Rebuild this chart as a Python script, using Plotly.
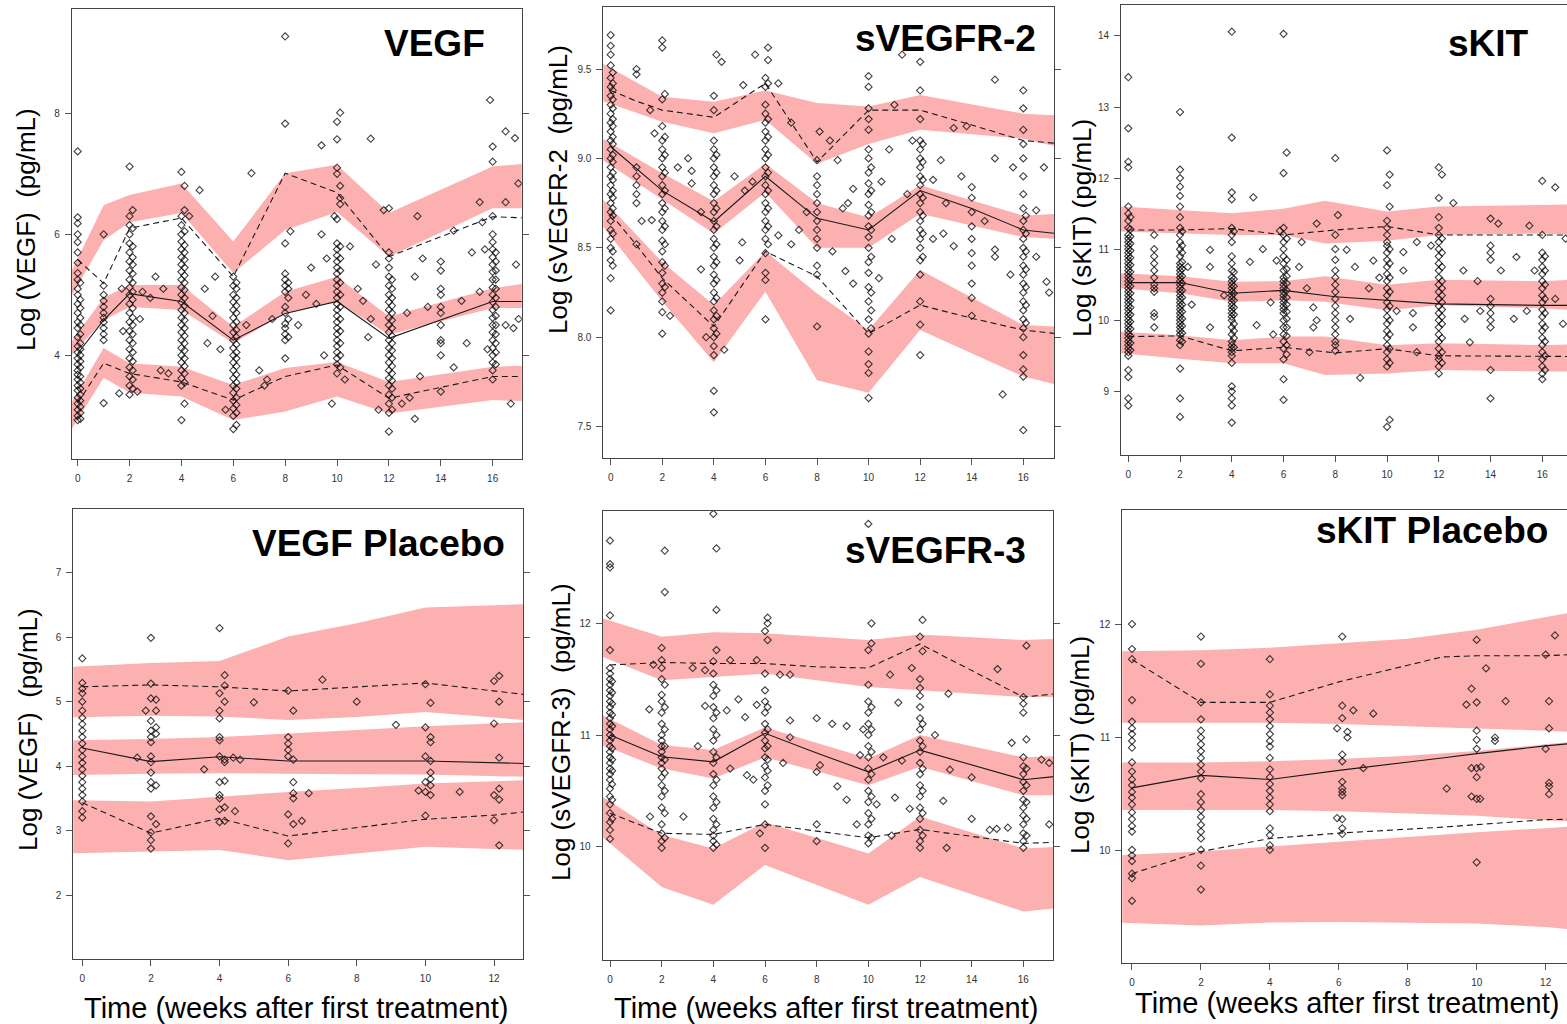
import plotly.graph_objects as go

W, H = 1567, 1024
BAND = "rgb(253,176,176)"
LINE = "#1a1a1a"
PT = "rgba(10,10,10,0.78)"
FONT = "Arial, Liberation Sans, sans-serif"

# ======================= VEGF (treated) =======================
vegf_band_time = [-0.25, 1, 2, 4, 6, 8, 10, 12, 16, 17.3]
vegf_hi_top = [5.38, 6.48, 6.65, 6.84, 5.88, 7.01, 7.15, 6.35, 7.12, 7.17]
vegf_hi_bot = [4.97, 5.90, 6.20, 6.35, 5.36, 6.07, 6.37, 5.63, 6.43, 6.43]
vegf_md_top = [4.22, 4.95, 5.16, 5.16, 4.47, 5.05, 5.30, 4.64, 5.11, 5.19]
vegf_md_bot = [4.00, 4.58, 4.80, 4.75, 4.20, 4.69, 4.89, 4.34, 4.78, 4.78]
vegf_lo_top = [3.21, 4.12, 3.87, 3.81, 3.51, 3.79, 3.89, 3.56, 3.81, 3.83]
vegf_lo_bot = [2.77, 3.63, 3.38, 3.32, 2.93, 3.07, 3.32, 3.04, 3.26, 3.24]
vegf_line_time = [0, 1, 2, 4, 6, 8, 10, 12, 16, 17.3]
vegf_p95 = [5.58, 5.19, 6.10, 6.27, 5.30, 7.01, 6.69, 5.63, 6.29, 6.27]
vegf_p50 = [4.03, 4.58, 5.02, 4.89, 4.25, 4.69, 4.89, 4.28, 4.89, 4.89]
vegf_p05 = [3.21, 3.87, 3.70, 3.56, 3.26, 3.65, 3.84, 3.29, 3.65, 3.65]
vegf_obs = [
    (0.0, [2.93, 3.0, 3.1, 3.2, 3.3, 3.42, 3.5, 3.6, 3.68, 3.75, 3.85, 3.95, 4.05, 4.15, 4.3, 4.45, 4.55, 4.7,
           4.85, 5.0, 5.1, 5.25, 5.36, 5.53, 5.7, 5.87, 6.0, 6.18, 6.28, 7.37]),
    (0.1, [2.95, 3.05, 3.15, 3.25, 3.35, 3.45, 3.55, 3.65, 3.8, 3.9, 4.0, 4.1, 4.2, 4.35, 4.5, 4.62, 4.78, 4.92, 5.2]),
    (1.0, [3.21, 4.25, 4.35, 4.45, 4.55, 4.62, 4.7, 4.8, 4.9, 5.0, 5.15, 6.0]),
    (2.0, [3.35, 3.5, 3.65, 3.8, 3.95, 4.1, 4.25, 4.4, 4.55, 4.7, 4.85, 5.0, 5.12, 5.25, 5.4, 5.55, 5.7, 5.85,
           6.0, 6.15, 6.3, 7.12]),
    (2.12, [3.45, 3.6, 3.75, 3.9, 4.05, 4.2, 4.35, 4.5, 4.62, 4.78, 4.92, 5.05, 5.2, 5.35, 5.5, 5.62, 5.8, 6.1, 6.4]),
    (4.0, [2.93, 3.5, 3.62, 3.75, 3.88, 4.0, 4.12, 4.25, 4.38, 4.5, 4.62, 4.75, 4.88, 5.0, 5.12, 5.25, 5.38, 5.5,
           5.62, 5.75, 5.88, 6.0, 6.15, 6.3, 7.03]),
    (4.12, [3.2, 3.55, 3.7, 3.82, 3.95, 4.08, 4.2, 4.32, 4.45, 4.58, 4.7, 4.82, 4.95, 5.08, 5.2, 5.32, 5.45, 5.58,
            5.7, 5.82, 6.05, 6.4, 6.8]),
    (6.0, [2.78, 3.0, 3.12, 3.25, 3.38, 3.5, 3.62, 3.75, 3.88, 4.0, 4.12, 4.25, 4.38, 4.5, 4.62, 4.75, 4.88, 5.0,
           5.15, 5.3]),
    (6.12, [2.85, 3.05, 3.18, 3.3, 3.45, 3.55, 3.68, 3.82, 3.95, 4.05, 4.18, 4.3, 4.42, 4.55, 4.7, 4.82, 4.95, 5.1, 5.2]),
    (8.0, [3.95, 4.25, 4.35, 4.45, 4.52, 4.7, 4.8, 5.05, 5.15, 5.25, 5.35, 5.85, 7.83, 9.27]),
    (8.12, [4.3, 4.6, 4.95, 5.1, 5.2]),
    (10.0, [3.7, 3.85, 3.95, 4.05, 4.15, 4.25, 4.35, 4.45, 4.55, 4.65, 4.75, 4.85, 4.95, 5.05, 5.15, 5.25, 5.35,
            5.45, 5.55, 5.65, 5.75, 5.85, 6.25, 7.0, 7.1, 7.57, 7.86]),
    (10.12, [3.8, 4.0, 4.2, 4.4, 4.6, 4.8, 5.0, 5.2, 5.4, 5.6, 5.8, 6.5, 6.6, 6.8, 8.01]),
    (12.0, [2.74, 3.05, 3.2, 3.35, 3.5, 3.62, 3.75, 3.88, 4.0, 4.12, 4.25, 4.38, 4.5, 4.62, 4.75, 4.88, 5.0, 5.15,
            5.3, 5.45, 5.6, 5.7, 6.43]),
    (12.12, [3.1, 3.3, 3.45, 3.58, 3.7, 3.82, 3.95, 4.08, 4.2, 4.32, 4.45, 4.58, 4.7, 4.82, 4.95, 5.1, 5.25]),
    (14.0, [3.4, 4.0, 4.2, 4.25, 4.5, 4.7, 4.8, 5.0, 5.1, 5.4, 5.55]),
    (16.0, [3.6, 3.75, 3.88, 4.0, 4.12, 4.25, 4.38, 4.5, 4.62, 4.75, 4.88, 5.0, 5.12, 5.25, 5.38, 5.5, 5.62, 5.75,
            5.87, 6.0, 6.3, 7.2, 7.45]),
    (16.12, [3.85, 4.05, 4.2, 4.35, 4.5, 4.65, 4.8, 4.95, 5.1, 5.25, 5.4, 5.55, 5.7]),
]
vegf_extra = [(1.7, 5.1), (1.75, 4.4), (1.6, 3.37), (2.3, 3.4), (2.4, 4.6), (2.5, 5.05), (3.0, 5.3), (3.2, 3.75),
              (3.5, 3.7), (2.8, 4.95), (3.3, 5.1), (4.3, 6.3), (4.7, 6.73), (5.0, 4.2), (5.2, 4.65), (5.3, 5.3),
              (5.5, 4.1), (5.7, 3.1), (4.9, 5.1), (6.7, 7.01), (7.0, 3.75), (7.2, 3.5), (6.5, 4.5), (7.5, 4.6),
              (7.3, 3.6), (8.5, 4.5), (8.8, 5.0), (9.2, 4.85), (9.5, 4.0), (9.8, 3.2), (9.0, 5.45), (9.6, 5.6),
              (10.5, 5.8), (10.8, 5.1), (11.0, 4.9), (11.2, 4.3), (11.5, 5.5), (11.3, 4.6), (10.3, 3.6), (11.6, 3.1),
              (12.5, 3.2), (12.8, 3.3), (13.0, 2.95), (13.2, 3.65), (12.7, 4.7), (13.0, 5.3), (13.3, 5.6), (13.5, 4.8),
              (14.5, 3.8), (14.8, 4.9), (15.0, 4.2), (15.2, 5.7), (15.5, 5.05), (15.8, 4.1), (15.7, 5.75), (16.5, 4.5),
              (16.8, 4.45), (17.0, 4.6), (16.7, 3.2), (16.9, 5.5), (11.8, 6.4), (13.1, 6.3), (9.4, 6.0), (9.9, 6.3),
              (8.2, 6.05), (16.5, 7.7), (15.9, 8.22), (16.86, 7.59), (16.99, 6.84), (15.5, 6.53), (14.5, 6.06),
              (15.6, 6.2), (16.5, 6.53), (11.3, 7.58), (9.4, 7.47)]

# ======================= sVEGFR-2 =======================
r2_band_time = [-0.3, 2, 4, 6, 8, 10, 12, 16, 17.3]
r2_hi_top = [9.53, 9.345, 9.317, 9.38, 9.31, 9.29, 9.355, 9.25, 9.24]
r2_hi_bot = [9.32, 9.205, 9.14, 9.215, 8.97, 9.08, 9.16, 9.11, 9.065]
r2_md_top = [9.11, 8.917, 8.76, 8.97, 8.75, 8.67, 8.85, 8.68, 8.69]
r2_md_bot = [8.99, 8.77, 8.58, 8.81, 8.50, 8.50, 8.69, 8.56, 8.55]
r2_lo_top = [8.77, 8.42, 8.18, 8.48, 8.245, 8.04, 8.376, 8.068, 8.06]
r2_lo_bot = [8.62, 8.20, 7.86, 8.255, 7.76, 7.69, 8.04, 7.78, 7.735]
r2_line_time = [0, 1, 2, 4, 6, 8, 10, 12, 14, 16, 17.3]
r2_p95 = [9.38, 9.32, 9.27, 9.23, 9.42, 8.98, 9.27, 9.27, 9.187, 9.10, 9.084]
r2_p50 = [9.065, 8.94, 8.82, 8.646, 8.90, 8.665, 8.60, 8.82, 8.72, 8.60, 8.58]
r2_p05 = [8.69, 8.515, 8.33, 8.06, 8.48, 8.34, 8.02, 8.18, 8.106, 8.04, 8.02]
r2_obs = [
    (0.0, [8.15, 8.33, 8.43, 8.5, 8.55, 8.6, 8.65, 8.7, 8.75, 8.8, 8.85, 8.9, 8.95, 9.0, 9.05, 9.1, 9.15, 9.2, 9.25,
           9.3, 9.35, 9.4, 9.45, 9.52, 9.58, 9.63, 9.69]),
    (0.08, [8.4, 8.48, 8.58, 8.68, 8.72, 8.78, 8.82, 8.88, 8.92, 8.98, 9.02, 9.08, 9.12, 9.18, 9.22, 9.28, 9.33, 9.38,
            9.42, 9.48]),
    (1.0, [8.52, 8.75, 8.8, 8.85, 8.9, 8.95, 9.47, 9.5]),
    (2.0, [8.02, 8.14, 8.2, 8.25, 8.3, 8.36, 8.42, 8.48, 8.54, 8.6, 8.65, 8.7, 8.75, 8.8, 8.85, 8.9, 8.95, 9.0, 9.05,
           9.1, 9.18, 9.33, 9.62, 9.66]),
    (2.1, [8.28, 8.4, 8.52, 8.62, 8.72, 8.82, 8.92, 9.02, 9.12, 9.36]),
    (4.0, [7.58, 7.7, 7.9, 7.95, 8.0, 8.05, 8.1, 8.15, 8.2, 8.25, 8.3, 8.35, 8.4, 8.45, 8.5, 8.55, 8.6, 8.65, 8.7,
           8.75, 8.8, 8.85, 8.9, 8.95, 9.0, 9.05, 9.1, 9.27, 9.35]),
    (4.1, [8.02, 8.12, 8.22, 8.32, 8.42, 8.52, 8.62, 8.72, 8.82, 8.92, 9.02, 9.58]),
    (6.0, [8.1, 8.32, 8.36, 8.47, 8.55, 8.6, 8.65, 8.7, 8.75, 8.8, 8.85, 8.9, 8.95, 9.0, 9.05, 9.1, 9.15, 9.2, 9.25,
           9.3, 9.4, 9.45]),
    (6.1, [8.52, 8.62, 8.72, 8.82, 8.92, 9.02, 9.12, 9.22, 9.42, 9.55, 9.62]),
    (8.0, [8.06, 8.35, 8.4, 8.5, 8.55, 8.6, 8.65, 8.7, 8.75, 8.8, 8.85, 8.9, 8.99]),
    (10.0, [7.66, 7.8, 7.85, 7.92, 8.02, 8.1, 8.2, 8.28, 8.36, 8.42, 8.5, 8.56, 8.62, 8.68, 8.74, 8.8, 8.86, 8.92,
            9.0, 9.05, 9.16, 9.22, 9.28, 9.4, 9.46]),
    (10.1, [8.05, 8.15, 8.25, 8.45, 8.6, 8.7, 8.82, 8.95]),
    (12.0, [7.9, 8.07, 8.2, 8.35, 8.43, 8.5, 8.55, 8.6, 8.65, 8.7, 8.75, 8.8, 8.85, 8.9, 8.95, 9.0, 9.05, 9.1, 9.22,
            9.38, 9.54]),
    (12.1, [8.45, 8.58, 8.68, 8.78, 8.88, 8.98, 9.08]),
    (14.0, [8.12, 8.22, 8.3, 8.4, 8.47, 8.55, 8.62, 8.7, 8.78, 8.84]),
    (16.0, [7.48, 7.78, 7.82, 7.9, 8.0, 8.05, 8.1, 8.15, 8.2, 8.25, 8.3, 8.35, 8.4, 8.45, 8.5, 8.55, 8.6, 8.65,
            8.72, 8.8, 8.9, 9.0, 9.08, 9.16, 9.28, 9.38]),
    (16.1, [8.08, 8.18, 8.28, 8.38, 8.48, 8.58, 8.68]),
]
r2_extra = [(1.59, 8.655), (1.53, 9.27), (1.7, 9.14), (3.14, 8.93), (3.14, 8.86), (3.5, 8.7), (4.3, 9.54),
            (5.14, 9.41), (5.6, 9.58), (4.8, 8.9), (5.5, 8.87), (5.2, 8.82), (6.5, 9.42), (7.0, 9.2), (7.3, 8.6),
            (8.1, 9.15), (8.5, 9.1), (8.8, 8.99), (9.0, 8.72), (9.2, 8.75), (9.4, 8.83), (10.5, 8.87), (10.8, 9.05),
            (11.0, 9.3), (11.3, 9.58), (11.7, 9.1), (12.5, 8.88), (12.8, 8.99), (13.0, 8.75), (13.3, 9.17),
            (13.8, 9.18), (14.9, 9.44), (14.9, 9.0), (15.6, 8.95), (16.5, 8.71), (16.8, 8.95), (12.5, 8.55),
            (12.9, 8.58), (13.3, 8.51), (14.9, 8.49), (14.9, 8.45), (15.2, 7.68), (15.5, 8.35), (16.5, 8.45),
            (16.9, 8.31), (17.0, 8.25), (10.9, 8.55), (10.4, 8.33), (9.4, 8.3), (9.1, 8.37), (8.6, 8.48),
            (7.0, 8.52), (6.5, 8.57), (5.1, 8.53), (5.0, 8.43), (4.4, 7.93), (3.7, 8.0), (3.5, 8.38), (2.3, 8.12),
            (1.2, 8.65), (2.6, 8.95), (3.0, 9.0), (7.6, 8.7), (11.5, 8.8), (13.6, 8.9), (14.5, 8.65)]

# ======================= sKIT (treated) =======================
kit_band_time = [-0.3, 2, 4, 6, 7.6, 10, 12, 16, 17.3]
kit_hi_top = [11.60, 11.55, 11.505, 11.57, 11.68, 11.53, 11.60, 11.62, 11.63]
kit_hi_bot = [11.25, 11.22, 11.20, 11.20, 11.08, 11.12, 11.20, 11.22, 11.20]
kit_md_top = [10.66, 10.62, 10.54, 10.55, 10.62, 10.50, 10.57, 10.55, 10.57]
kit_md_bot = [10.45, 10.38, 10.26, 10.28, 10.26, 10.14, 10.21, 10.17, 10.14]
kit_lo_top = [9.84, 9.79, 9.72, 9.77, 9.77, 9.65, 9.675, 9.65, 9.66]
kit_lo_bot = [9.535, 9.46, 9.395, 9.395, 9.23, 9.25, 9.30, 9.28, 9.28]
kit_line_time = [0, 2, 4, 6, 8, 10, 12, 16, 17.3]
kit_p95 = [11.27, 11.27, 11.29, 11.20, 11.27, 11.32, 11.20, 11.20, 11.20]
kit_p50 = [10.53, 10.53, 10.38, 10.42, 10.33, 10.285, 10.23, 10.21, 10.21]
kit_p05 = [9.77, 9.78, 9.57, 9.62, 9.54, 9.60, 9.50, 9.49, 9.49]
kit_obs = [
    (0.0, [8.8, 8.9, 9.2, 9.3, 9.5, 9.55, 9.6, 9.65, 9.7, 9.75, 9.8, 9.85, 9.9, 9.95, 10.0, 10.05, 10.1, 10.15,
           10.2, 10.25, 10.3, 10.35, 10.4, 10.45, 10.5, 10.55, 10.6, 10.65, 10.7, 10.75, 10.8, 10.85, 10.9, 10.95,
           11.0, 11.05, 11.1, 11.15, 11.2, 11.3, 11.4, 11.5, 11.6, 12.15, 12.23, 12.7, 13.42]),
    (0.08, [9.58, 9.68, 9.78, 9.88, 9.98, 10.08, 10.18, 10.28, 10.38, 10.48, 10.58, 10.68, 10.78, 10.88, 10.98,
            11.08, 11.18, 11.28, 11.45]),
    (1.0, [9.9, 10.05, 10.1, 10.4, 10.45, 10.5, 10.6, 10.7, 10.8, 10.9, 11.0, 11.2]),
    (2.0, [8.64, 8.9, 9.32, 9.65, 9.72, 9.8, 9.85, 9.9, 9.95, 10.0, 10.05, 10.1, 10.15, 10.2, 10.25, 10.3, 10.35,
           10.4, 10.45, 10.5, 10.55, 10.6, 10.65, 10.7, 10.75, 10.8, 10.9, 11.0, 11.1, 11.2, 11.3, 11.45, 11.6,
           11.75, 11.88, 12.0, 12.12, 12.93]),
    (2.08, [9.7, 9.82, 9.92, 10.02, 10.12, 10.22, 10.32, 10.42, 10.52, 10.62, 10.72, 10.82, 10.95, 11.05, 11.25]),
    (4.0, [8.56, 8.8, 8.9, 9.0, 9.07, 9.4, 9.5, 9.55, 9.6, 9.65, 9.7, 9.8, 9.9, 10.0, 10.05, 10.1, 10.15, 10.2,
           10.25, 10.3, 10.35, 10.4, 10.45, 10.5, 10.55, 10.6, 10.7, 10.8, 10.9, 11.1, 11.2, 11.3, 11.7, 11.8,
           12.57, 14.06]),
    (4.08, [9.62, 9.75, 9.85, 9.95, 10.08, 10.18, 10.28, 10.38, 10.48, 10.58, 10.68, 11.25]),
    (6.0, [8.88, 9.17, 9.45, 9.6, 9.7, 9.8, 9.9, 10.0, 10.1, 10.15, 10.2, 10.25, 10.3, 10.35, 10.4, 10.45, 10.5,
           10.55, 10.6, 10.7, 10.8, 10.9, 11.0, 11.1, 11.2, 11.3, 12.07, 14.03]),
    (6.12, [9.52, 9.65, 9.78, 9.9, 10.02, 10.12, 10.22, 10.32, 10.42, 10.52, 10.62, 10.72, 10.85, 11.15, 12.36]),
    (8.0, [9.57, 9.65, 9.7, 9.8, 9.9, 10.0, 10.1, 10.2, 10.3, 10.4, 10.5, 10.6, 10.7, 10.85, 11.0, 11.2, 12.28]),
    (10.0, [8.5, 9.35, 9.45, 9.55, 9.65, 9.75, 9.85, 9.95, 10.05, 10.15, 10.25, 10.35, 10.45, 10.55, 10.65, 10.75,
            10.85, 10.95, 11.05, 11.1, 11.2, 11.3, 11.4, 11.9, 12.39]),
    (10.1, [8.6, 9.4, 9.6, 9.8, 10.0, 10.2, 10.4, 10.6, 10.8, 11.0, 11.6, 12.05]),
    (12.0, [9.25, 9.35, 9.45, 9.5, 9.6, 9.7, 9.8, 9.9, 10.0, 10.1, 10.2, 10.3, 10.4, 10.5, 10.6, 10.7, 10.8, 10.9,
            11.0, 11.1, 11.2, 11.3, 11.45, 11.72, 12.15]),
    (12.12, [9.4, 9.55, 9.75, 9.95, 10.05, 10.15, 10.25, 10.35, 10.45, 10.55, 10.75, 10.95, 11.15, 12.05]),
    (14.0, [8.9, 9.3, 9.9, 10.0, 10.1, 10.2, 10.3, 10.85, 10.95, 11.05]),
    (16.0, [9.17, 9.25, 9.35, 9.45, 9.55, 9.65, 9.75, 9.85, 9.95, 10.05, 10.15, 10.25, 10.35, 10.45, 10.55, 10.65,
            10.75, 10.85, 10.95, 11.2, 11.96]),
    (16.1, [9.3, 9.5, 9.7, 9.9, 10.1, 10.3, 10.5, 10.7, 10.9]),
]
kit_extra = [(2.3, 10.75), (2.45, 10.22), (3.16, 10.99), (3.16, 10.75), (3.16, 9.9), (4.7, 10.82), (4.96, 9.93),
             (5.2, 11.0), (5.5, 10.25), (5.6, 9.8), (5.73, 10.84), (6.6, 10.75), (6.7, 11.1), (7.15, 10.18),
             (7.28, 10.0), (7.15, 9.9), (7.0, 9.55), (8.44, 10.99), (8.57, 10.02), (8.76, 10.75), (8.96, 9.19),
             (9.47, 10.84), (10.63, 10.96), (10.63, 10.7), (10.37, 10.13), (11.0, 10.1), (11.0, 9.9), (11.15, 9.55),
             (11.15, 11.1), (11.7, 11.05), (12.95, 10.7), (13.0, 10.02), (13.2, 9.69), (13.6, 10.13), (14.4, 10.7),
             (14.9, 10.02), (15.0, 10.89), (15.4, 10.13), (15.7, 10.7), (16.5, 10.3), (16.8, 9.95), (16.9, 11.15),
             (4.83, 11.73), (8.1, 11.48), (12.56, 11.65), (14.0, 11.43), (14.3, 11.36), (15.5, 11.33), (7.28, 11.36),
             (5.86, 11.26), (16.5, 11.87), (9.3, 10.45), (9.7, 10.6), (13.5, 10.55), (6.9, 10.45), (3.7, 10.35)]

# ======================= VEGF Placebo =======================
vp_band_time = [-0.3, 2, 4, 6, 8, 10, 12.9]
vp_hi_top = [5.54, 5.60, 5.63, 6.01, 6.215, 6.46, 6.51]
vp_hi_bot = [4.757, 4.78, 4.77, 4.715, 4.76, 4.84, 4.715]
vp_md_top = [4.40, 4.42, 4.45, 4.50, 4.56, 4.62, 4.68]
vp_md_bot = [3.86, 3.88, 3.89, 3.88, 3.875, 3.87, 3.835]
vp_lo_top = [3.47, 3.45, 3.525, 3.60, 3.66, 3.73, 3.78]
vp_lo_bot = [2.647, 2.67, 2.70, 2.54, 2.65, 2.75, 2.70]
vp_line_time = [0, 2, 4, 6, 10, 12, 12.9]
vp_p95 = [5.23, 5.26, 5.23, 5.165, 5.29, 5.16, 5.11]
vp_p50 = [4.28, 4.07, 4.145, 4.08, 4.08, 4.05, 4.04]
vp_p05 = [3.43, 2.96, 3.19, 2.915, 3.175, 3.24, 3.29]
vp_obs = [
    (0.0, [3.2, 3.3, 3.45, 3.55, 3.65, 3.75, 3.85, 3.95, 4.05, 4.15, 4.25, 4.35, 4.45, 4.55, 4.65, 4.75, 4.86,
           5.0, 5.13, 5.2, 5.29, 5.67]),
    (2.0, [2.72, 2.85, 2.97, 3.22, 3.65, 3.75, 3.9, 4.06, 4.15, 4.37, 4.45, 4.55, 4.7, 5.05, 5.28, 5.99]),
    (2.15, [3.1, 3.7, 4.5, 4.6, 4.86, 5.03]),
    (1.85, [4.86]),
    (4.0, [3.13, 3.33, 3.5, 3.55, 3.75, 4.15, 4.4, 4.45, 4.74, 4.86, 5.13, 6.14]),
    (4.15, [3.15, 3.36, 3.77, 4.06, 4.1, 5.0, 5.25, 5.41]),
    (6.0, [2.8, 3.25, 4.15, 4.25, 4.35, 4.45, 5.17]),
    (6.15, [3.1, 3.5, 3.58, 3.75, 4.1, 4.86]),
    (10.0, [3.23, 3.6, 3.75, 4.15, 4.6, 5.27]),
    (10.15, [3.55, 3.7, 3.8, 3.9, 4.08, 4.37, 4.45, 4.98]),
    (12.0, [3.16, 3.55, 4.66, 5.32]),
    (12.15, [2.77, 3.48, 3.65, 4.13, 5.0, 5.4]),
]
vp_extra = [(7.0, 5.34), (5.0, 4.99), (8.0, 5.0), (3.55, 3.95), (4.4, 4.13), (4.6, 4.1), (6.6, 3.58), (9.14, 4.64),
            (11.0, 3.6), (6.4, 3.15), (1.6, 4.13), (9.8, 3.62), (4.45, 3.3)]

# ======================= sVEGFR-3 =======================
r3_band_time = [-0.3, 2, 4, 6, 10, 12, 16, 17.3]
r3_hi_top = [12.045, 11.88, 11.92, 11.91, 11.85, 11.90, 11.85, 11.86]
r3_hi_bot = [11.70, 11.49, 11.52, 11.55, 11.43, 11.40, 11.34, 11.34]
r3_md_top = [11.18, 10.91, 10.865, 11.07, 10.79, 11.00, 10.80, 10.81]
r3_md_bot = [10.91, 10.70, 10.61, 10.80, 10.55, 10.716, 10.46, 10.46]
r3_lo_top = [10.45, 10.105, 9.985, 10.22, 9.94, 10.27, 9.985, 10.0]
r3_lo_bot = [10.09, 9.64, 9.48, 9.836, 9.48, 9.73, 9.42, 9.45]
r3_line_time = [0, 2, 4, 6, 8, 10, 12, 16, 17.3]
r3_p95 = [11.627, 11.65, 11.64, 11.64, 11.61, 11.60, 11.815, 11.34, 11.37]
r3_p50 = [11.0, 10.805, 10.76, 11.015, 10.84, 10.67, 10.865, 10.60, 10.63]
r3_p05 = [10.30, 10.12, 10.11, 10.20, 10.14, 10.08, 10.155, 10.03, 10.04]
r3_obs = [
    (0.0, [10.07, 10.15, 10.22, 10.3, 10.38, 10.45, 10.52, 10.6, 10.65, 10.7, 10.75, 10.8, 10.85, 10.9, 10.95, 11.0,
           11.05, 11.1, 11.15, 11.2, 11.25, 11.3, 11.35, 11.4, 11.45, 11.5, 11.55, 11.6, 11.76, 12.07, 12.5, 12.53,
           12.74]),
    (0.08, [10.25, 10.42, 10.56, 10.68, 10.78, 10.88, 10.98, 11.08, 11.18, 11.28, 11.38, 11.48]),
    (2.0, [9.99, 10.05, 10.12, 10.2, 10.35, 10.45, 10.55, 10.62, 10.7, 10.75, 10.8, 10.85, 10.9, 10.95, 11.0, 11.1,
           11.2, 11.3, 11.36, 11.5, 11.6, 11.67, 11.78]),
    (2.12, [10.08, 10.3, 10.5, 10.66, 10.78, 10.9, 11.05, 11.25, 11.45, 12.28, 12.65]),
    (4.0, [9.99, 10.05, 10.1, 10.15, 10.25, 10.35, 10.45, 10.55, 10.65, 10.75, 10.85, 10.95, 11.05, 11.15, 11.25,
           11.35, 11.45, 11.55, 11.66, 12.98]),
    (4.12, [10.02, 10.2, 10.4, 10.6, 10.8, 11.0, 11.2, 11.4, 11.76, 12.12, 12.67]),
    (6.0, [9.99, 10.2, 10.38, 10.5, 10.62, 10.72, 10.8, 10.88, 10.95, 11.02, 11.1, 11.2, 11.3, 11.4, 11.55, 11.93]),
    (6.1, [10.55, 10.68, 10.78, 10.9, 11.05, 11.25, 11.85, 12.0, 12.05]),
    (8.0, [10.05, 10.2, 10.67, 11.15]),
    (10.0, [10.03, 10.1, 10.2, 10.3, 10.4, 10.5, 10.6, 10.7, 10.8, 10.9, 11.0, 11.1, 11.2, 11.3, 11.45, 11.76,
            12.89]),
    (10.12, [10.08, 10.25, 10.45, 10.65, 10.85, 11.05, 11.25, 11.82, 12.0]),
    (12.0, [9.99, 10.05, 10.15, 10.25, 10.35, 10.45, 10.55, 10.65, 10.75, 10.85, 10.95, 11.05, 11.15, 11.25, 11.35,
            11.42, 11.5, 11.88]),
    (12.1, [10.1, 10.3, 10.5, 10.7, 10.9, 11.1, 11.75, 12.03]),
    (14.0, [10.25, 10.62]),
    (16.0, [9.99, 10.05, 10.12, 10.2, 10.28, 10.35, 10.42, 10.5, 10.58, 10.65, 10.72, 10.8, 11.2, 11.28, 11.34]),
    (16.12, [10.1, 10.25, 10.4, 10.55, 10.7, 10.96, 11.8]),
]
r3_extra = [(1.68, 11.63), (1.52, 11.23), (3.68, 11.58), (3.68, 11.26), (4.52, 11.22), (4.65, 11.67), (4.97, 11.32),
            (5.23, 11.16), (5.68, 11.67), (5.68, 11.27), (6.58, 11.54), (6.97, 11.54), (6.97, 11.13), (9.16, 11.08),
            (10.84, 11.54), (11.16, 11.29), (11.68, 11.6), (13.1, 11.37), (15.0, 11.59), (1.55, 10.27),
            (2.84, 10.27), (4.65, 10.7), (5.3, 10.64), (5.55, 10.6), (5.8, 10.12), (6.7, 10.75), (6.97, 10.98),
            (8.13, 10.73), (8.8, 10.54), (9.16, 10.42), (9.55, 10.2), (9.68, 10.82), (10.32, 10.38), (10.58, 10.8),
            (10.9, 10.1), (11.03, 10.44), (11.3, 10.77), (11.6, 10.34), (12.58, 11.0), (12.9, 10.41), (13.03, 9.99),
            (13.16, 10.69), (14.7, 10.15), (14.97, 10.16), (15.4, 10.17), (15.55, 10.93), (16.7, 10.78),
            (17.0, 10.75), (17.0, 10.2), (9.8, 11.05), (3.2, 11.6), (3.4, 10.9), (8.6, 11.1)]

# ======================= sKIT Placebo =======================
kp_band_time = [-0.3, 2, 4, 6, 8, 10, 12, 12.7]
kp_hi_top = [11.76, 11.77, 11.79, 11.83, 11.87, 11.95, 12.06, 12.10]
kp_hi_bot = [11.13, 11.13, 11.13, 11.12, 11.10, 11.08, 11.06, 11.05]
kp_md_top = [10.78, 10.78, 10.79, 10.81, 10.84, 10.88, 10.94, 10.96]
kp_md_bot = [10.36, 10.36, 10.36, 10.35, 10.33, 10.31, 10.27, 10.26]
kp_lo_top = [9.965, 9.995, 10.04, 10.083, 10.12, 10.166, 10.20, 10.216]
kp_lo_bot = [9.367, 9.344, 9.37, 9.375, 9.37, 9.36, 9.33, 9.31]
kp_line_time = [0, 2, 4, 6, 9, 10, 12, 12.7]
kp_p95 = [11.687, 11.31, 11.31, 11.49, 11.71, 11.72, 11.72, 11.73]
kp_p50 = [10.556, 10.666, 10.63, 10.71, 10.82, 10.858, 10.926, 10.946]
kp_p05 = [9.80, 9.995, 10.11, 10.157, 10.21, 10.23, 10.276, 10.28]
kp_obs = [
    (0.0, [9.56, 9.76, 9.8, 9.91, 9.96, 10.01, 10.17, 10.22, 10.28, 10.34, 10.41, 10.47, 10.52, 10.58, 10.63, 10.7,
           10.78, 10.91, 10.97, 11.03, 11.08, 11.14, 11.33, 11.69, 11.78, 12.0]),
    (2.0, [9.66, 9.87, 10.01, 10.11, 10.17, 10.23, 10.3, 10.36, 10.43, 10.5, 10.64, 10.7, 10.76, 10.82, 10.88, 10.94,
           11.0, 11.06, 11.16, 11.31, 11.65, 11.89]),
    (4.0, [10.01, 10.05, 10.14, 10.2, 10.35, 10.41, 10.47, 10.53, 10.59, 10.65, 10.72, 10.82, 10.92, 10.97, 11.03,
           11.1, 11.16, 11.22, 11.28, 11.38, 11.69]),
    (6.1, [10.15, 10.2, 10.28, 10.49, 10.52, 10.55, 10.61, 10.79, 10.85, 11.17, 11.28, 11.89]),
    (6.25, [11.0, 11.05]),
    (10.0, [9.9, 10.46, 10.65, 10.73, 10.9, 10.98, 11.06, 11.31, 11.86]),
    (12.1, [10.5, 10.57, 10.6, 11.08, 11.32]),
]
kp_extra = [(10.27, 11.61), (9.85, 11.43), (9.7, 11.29), (10.84, 11.32), (10.53, 10.97), (10.53, 11.0), (9.85, 10.73),
            (10.12, 10.74), (9.13, 10.55), (9.85, 10.48), (10.1, 10.46), (6.42, 11.24), (7.0, 11.21), (5.95, 11.08),
            (6.71, 10.73), (5.95, 10.29), (12.0, 11.73), (12.27, 11.9), (12.0, 10.9)]

# ---------------------------------------------------------------------------
panels = [
    dict(band_t=vegf_band_time, bands=[(vegf_hi_top, vegf_hi_bot), (vegf_md_top, vegf_md_bot),
         (vegf_lo_top, vegf_lo_bot)], line_t=vegf_line_time, p95=vegf_p95, p50=vegf_p50, p05=vegf_p05,
         obs=vegf_obs, extra=vegf_extra,
         box=(71.7, 521.7, 9.3, 459.3), xr=(-0.231, 17.12), yr=(2.281, 9.719),
         xt=[0, 2, 4, 6, 8, 10, 12, 14, 16], yt=[4, 6, 8], ytt=["4", "6", "8"], clip_right=False),
    dict(band_t=r2_band_time, bands=[(r2_hi_top, r2_hi_bot), (r2_md_top, r2_md_bot),
         (r2_lo_top, r2_lo_bot)], line_t=r2_line_time, p95=r2_p95, p50=r2_p50, p05=r2_p05,
         obs=r2_obs, extra=r2_extra,
         box=(603.3, 1054.0, 7.3, 458.3), xr=(-0.287, 17.19), yr=(7.323, 9.845),
         xt=[0, 2, 4, 6, 8, 10, 12, 14, 16], yt=[7.5, 8.0, 8.5, 9.0, 9.5], ytt=["7.5", "8.0", "8.5", "9.0", "9.5"],
         clip_right=False),
    dict(band_t=kit_band_time, bands=[(kit_hi_top, kit_hi_bot), (kit_md_top, kit_md_bot),
         (kit_lo_top, kit_lo_bot)], line_t=kit_line_time, p95=kit_p95, p50=kit_p50, p05=kit_p05,
         obs=kit_obs, extra=kit_extra,
         box=(1121.0, 1567.0, 4.7, 455.0), xr=(-0.282, 16.955), yr=(8.104, 14.44),
         xt=[0, 2, 4, 6, 8, 10, 12, 14, 16], yt=[9, 10, 11, 12, 13, 14], ytt=["9", "10", "11", "12", "13", "14"],
         clip_right=True),
    dict(band_t=vp_band_time, bands=[(vp_hi_top, vp_hi_bot), (vp_md_top, vp_md_bot),
         (vp_lo_top, vp_lo_bot)], line_t=vp_line_time, p95=vp_p95, p50=vp_p50, p05=vp_p05,
         obs=vp_obs, extra=vp_extra,
         box=(73.3, 523.3, 509.3, 959.3), xr=(-0.262, 12.853), yr=(1.0025, 7.984),
         xt=[0, 2, 4, 6, 8, 10, 12], yt=[2, 3, 4, 5, 6, 7], ytt=["2", "3", "4", "5", "6", "7"], clip_right=False),
    dict(band_t=r3_band_time, bands=[(r3_hi_top, r3_hi_bot), (r3_md_top, r3_md_bot),
         (r3_lo_top, r3_lo_bot)], line_t=r3_line_time, p95=r3_p95, p50=r3_p50, p05=r3_p05,
         obs=r3_obs, extra=r3_extra,
         box=(602.7, 1053.3, 510.7, 960.0), xr=(-0.283, 17.16), yr=(8.986, 13.008),
         xt=[0, 2, 4, 6, 8, 10, 12, 14, 16], yt=[10, 11, 12], ytt=["10", "11", "12"], clip_right=False),
    dict(band_t=kp_band_time, bands=[(kp_hi_top, kp_hi_bot), (kp_md_top, kp_md_bot),
         (kp_lo_top, kp_lo_bot)], line_t=kp_line_time, p95=kp_p95, p50=kp_p50, p05=kp_p05,
         obs=kp_obs, extra=kp_extra,
         box=(1122.3, 1567.0, 510.0, 963.3), xr=(-0.281, 12.62), yr=(9.01, 13.005),
         xt=[0, 2, 4, 6, 8, 10, 12], yt=[10, 11, 12], ytt=["10", "11", "12"], clip_right=True),
]

panel_titles = [("VEGF", 487, 43), ("sVEGFR-2", 1038, 38), ("sKIT", 1531, 43),
                ("VEGF Placebo", 507, 543), ("sVEGFR-3", 1028, 550), ("sKIT Placebo", 1550, 530)]
y_titles = [("Log (VEGF)  (pg/mL)", 26, 230), ("Log (sVEGFR-2  (pg/mL)", 558, 190),
            ("Log (sKIT) (pg/mL)", 1082, 228), ("Log (VEGF)  (pg/mL)", 28, 730),
            ("Log (sVEGFR-3)  (pg/mL)", 561, 732), ("Log (sKIT) (pg/mL)", 1080, 745)]
x_title = "Time (weeks after first treatment)"
x_titles = [(296, 1008), (826, 1008), (1347, 1003)]

fig = go.Figure()
layout = {}
for i, p in enumerate(panels):
    k = "" if i == 0 else str(i + 1)
    xa, ya = "x" + k, "y" + k
    for top, bot in p["bands"]:
        fig.add_trace(go.Scatter(x=p["band_t"] + p["band_t"][::-1], y=top + bot[::-1], fill="toself",
                                 fillcolor=BAND, line=dict(width=0, color=BAND), mode="lines",
                                 hoverinfo="skip", showlegend=False, xaxis=xa, yaxis=ya))
    xs, ys = [], []
    for t, vals in p["obs"]:
        xs += [t] * len(vals)
        ys += vals
    for t, v in p["extra"]:
        xs.append(t)
        ys.append(v)
    fig.add_trace(go.Scatter(x=xs, y=ys, mode="markers", showlegend=False, xaxis=xa, yaxis=ya,
                             marker=dict(symbol="diamond-open", size=5.5, color=PT, line=dict(width=1.1, color=PT))))
    fig.add_trace(go.Scatter(x=p["line_t"], y=p["p95"], mode="lines", showlegend=False, xaxis=xa, yaxis=ya,
                             line=dict(color=LINE, width=1.1, dash="6px,4px")))
    fig.add_trace(go.Scatter(x=p["line_t"], y=p["p05"], mode="lines", showlegend=False, xaxis=xa, yaxis=ya,
                             line=dict(color=LINE, width=1.1, dash="6px,4px")))
    fig.add_trace(go.Scatter(x=p["line_t"], y=p["p50"], mode="lines", showlegend=False, xaxis=xa, yaxis=ya,
                             line=dict(color=LINE, width=1.1)))
    l, r, t_, b = p["box"]
    layout["xaxis" + k] = dict(domain=[l / W, r / W], anchor=ya, range=list(p["xr"]), tickvals=p["xt"],
                               ticktext=[str(v) for v in p["xt"]], showgrid=False, zeroline=False,
                               showline=True, linecolor="#444", linewidth=1, mirror=True,
                               ticks="outside", ticklen=6, tickcolor="#555", tickwidth=1, ticklabelstandoff=4,
                               tickfont=dict(size=10, color="#333", family=FONT), fixedrange=True)
    layout["yaxis" + k] = dict(domain=[1 - b / H, 1 - t_ / H], anchor=xa, range=list(p["yr"]), tickvals=p["yt"],
                               ticktext=p["ytt"], showgrid=False, zeroline=False,
                               showline=True, linecolor="#444", linewidth=1,
                               mirror=False if p["clip_right"] else "ticks",
                               ticks="outside", ticklen=6, tickcolor="#555", tickwidth=1, ticklabelstandoff=3,
                               tickfont=dict(size=10, color="#333", family=FONT), fixedrange=True)

ann = []
for txt, rx, cy in panel_titles:
    ann.append(dict(text="<b>" + txt + "</b>", x=rx / W, y=1 - cy / H, xref="paper", yref="paper",
                    xanchor="right", yanchor="middle", showarrow=False,
                    font=dict(size=37, color="black", family=FONT)))
for txt, cx, cy in y_titles:
    ann.append(dict(text=txt, x=cx / W, y=1 - cy / H, xref="paper", yref="paper", textangle=-90,
                    xanchor="center", yanchor="middle", showarrow=False,
                    font=dict(size=26, color="black", family=FONT)))
for cx, cy in x_titles:
    ann.append(dict(text=x_title, x=cx / W, y=1 - cy / H, xref="paper", yref="paper",
                    xanchor="center", yanchor="middle", showarrow=False,
                    font=dict(size=29, color="black", family=FONT)))

fig.update_layout(width=W, height=H, margin=dict(l=0, r=0, t=0, b=0), paper_bgcolor="white",
                  plot_bgcolor="white", showlegend=False, annotations=ann, **layout)
fig.write_html("out.html", config={"displayModeBar": False},
               post_script="document.body.style.margin='0px';document.body.style.padding='0px';")
